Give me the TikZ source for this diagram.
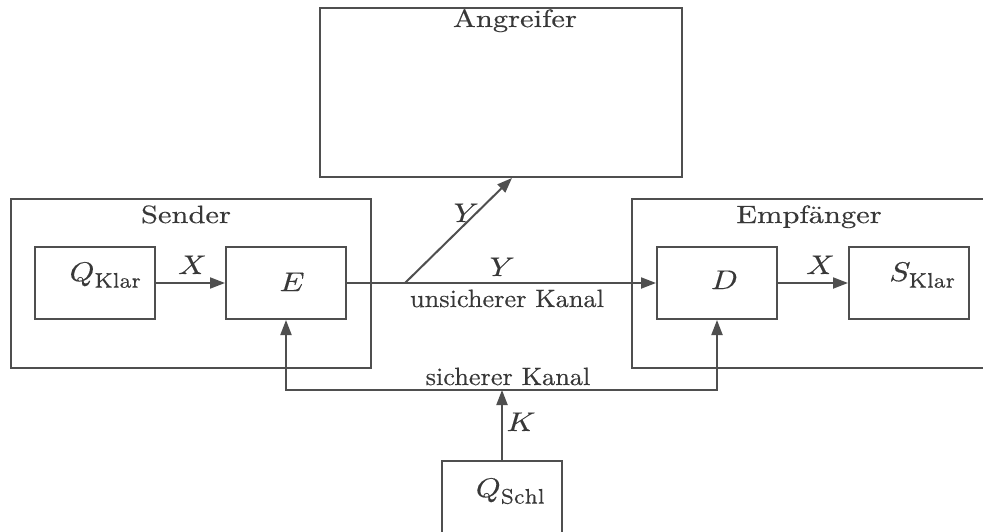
\documentclass[tikz,border=0pt]{standalone}
\usepackage{fontspec}
\usepackage{unicode-math}
\setmainfont{Latin Modern Roman}[FakeBold=0.35]
\setmathfont{Latin Modern Math}[FakeBold=0.35]
\usetikzlibrary{arrows.meta}
\definecolor{ink}{HTML}{4F4F4F}
\definecolor{txtc}{HTML}{383838}
% stretched text, as set in the scanned figure
\newcommand\ttl[1]{\scalebox{3.05}[2.5]{#1}}
\newcommand\lab[1]{\scalebox{2.63}[2.5]{#1}}
\newcommand\mth[1]{\scalebox{3.15}[2.7]{$#1$}}
\newcommand\sub[1]{\scalebox{0.95}[1.12]{$\scriptstyle\mathrm{#1}$}}
\begin{document}
\begin{tikzpicture}[x=1pt,y=-1pt,
  frame/.style={draw=ink,line width=2pt,inner sep=0pt,minimum width=360pt,minimum height=169pt},
  box/.style={draw=ink,line width=2pt,inner sep=0pt,minimum width=120pt,minimum height=72pt},
  txt/.style={text=txtc,inner sep=0pt,anchor=base},
  flow/.style={draw=ink,line width=2pt,-{Triangle[length=15pt,width=11pt]}}]
\useasboundingbox (0,0) rectangle (983,532);
\clip (0,0) rectangle (983,532);
\fill[white] (0,0) rectangle (983,532);

% outer frames
\node[frame,minimum width=362pt] (ang) at (501,92.5) {};
\node[frame] (snd) at (191,283.5) {};
\node[frame] (emp) at (812,283.5) {};
\node[txt] (angt) at (515,27) {\ttl{Angreifer}};
\node[txt] (sndt) at (186,223) {\ttl{Sender}};
\node[txt] (empt) at (809,223) {\ttl{Empfänger}};

% inner blocks
\node[box] (qk) at (95,283) {};
\node[box] (enc) at (286,283) {};
\node[box] (dec) at (717,283) {};
\node[box] (sk) at (909,283) {};
\node[box] (qs) at (502,497) {};
\node[txt] (qkt) at (106,281) {\mth{Q_{\sub{Klar}}}};
\node[txt] (enct) at (292,291) {\mth{E}};
\node[txt] (dect) at (724,289) {\mth{D}};
\node[txt] (skt) at (923,281) {\mth{S_{\sub{Klar}}}};
\node[txt] (qst) at (511,497) {\mth{Q_{\sub{Schl}}}};

% plaintext flow
\draw[flow] (qk) -- (enc);
\draw[flow] (dec) -- (sk);
\node[txt] (xl) at (192,274) {\mth{X}};
\node[txt] (xr) at (820,274) {\mth{X}};

% insecure channel with tap to the attacker
\coordinate (tap) at (405,283);
\path (ang.south) ++(11,0) coordinate (atk);
\draw[flow] (enc.east) -- (dec.west);
\draw[flow] (tap) -- (atk);
\node[txt] (yh) at (502,276) {\mth{Y}};
\node[txt] (yd) at (466,222) {\mth{Y}};
\node[txt] (ul) at (507,307) {\lab{unsicherer Kanal}};

% secure key channel
\coordinate (kj) at (502,390);
\draw[flow] (qs.north) -- (kj);
\draw[flow] (kj) -| (enc.south);
\draw[flow] (kj) -| (dec.south);
\node[txt] (sl) at (508,385) {\lab{sicherer Kanal}};
\node[txt] (kl) at (521,431) {\mth{K}};
\end{tikzpicture}
\end{document}
